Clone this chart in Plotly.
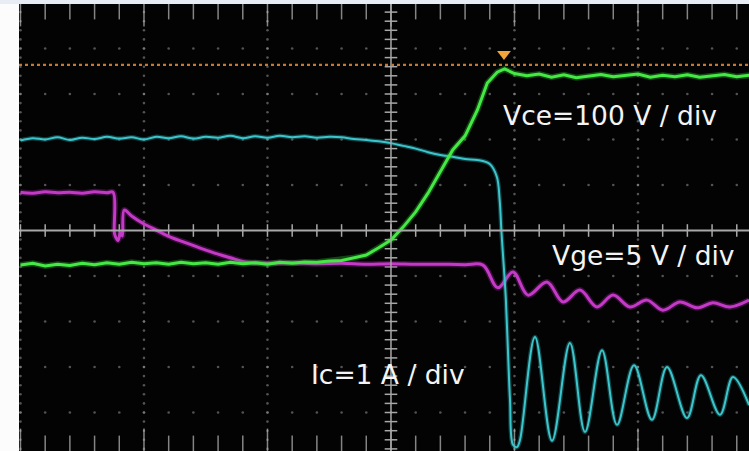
import numpy as np
import plotly.graph_objects as go

# ---- data (in screen divisions; x = time div from centre, y = vertical div from centre)
vce_t = [-3.0, -2.9, -2.8, -2.7, -2.6, -2.5, -2.4, -2.3, -2.2, -2.1, -2.0, -1.9, -1.8, -1.7,
         -1.6, -1.5, -1.4, -1.3, -1.2, -1.1, -1.0, -0.9, -0.8, -0.7, -0.6, -0.5, -0.4, -0.3,
         -0.2, -0.1, 0.0, 0.1, 0.2, 0.3, 0.4, 0.5, 0.6, 0.7, 0.78, 0.86, 0.92, 1.0, 1.1, 1.2,
         1.3, 1.4, 1.5, 1.6, 1.7, 1.8, 1.9, 2.0, 2.1, 2.2, 2.3, 2.4, 2.5, 2.6, 2.7, 2.8, 2.9]
vce_v = [-0.76, -0.72, -0.78, -0.74, -0.77, -0.72, -0.75, -0.71, -0.74, -0.70, -0.73, -0.71,
         -0.74, -0.70, -0.73, -0.71, -0.74, -0.70, -0.73, -0.71, -0.74, -0.70, -0.72, -0.69,
         -0.70, -0.67, -0.66, -0.60, -0.54, -0.38, -0.21, 0.08, 0.41, 0.82, 1.29, 1.77, 2.08,
         2.65, 3.24, 3.48, 3.55, 3.45, 3.40, 3.44, 3.37, 3.42, 3.36, 3.40, 3.43, 3.38, 3.41,
         3.44, 3.37, 3.41, 3.38, 3.42, 3.37, 3.40, 3.43, 3.38, 3.41]

ic_t = [-3.0, -2.9, -2.8, -2.7, -2.6, -2.5, -2.4, -2.3, -2.2, -2.1, -2.0, -1.9, -1.8, -1.7,
        -1.6, -1.5, -1.4, -1.3, -1.2, -1.1, -1.0, -0.9, -0.8, -0.7, -0.6, -0.5, -0.4, -0.3,
        -0.2, -0.1, 0.0, 0.1, 0.2, 0.3, 0.4, 0.5, 0.6, 0.7, 0.8, 0.857, 0.88, 0.895, 0.915,
        0.93, 0.947, 0.964, 0.988, 1.02, 1.045, 1.166, 1.304, 1.449, 1.571, 1.709, 1.830,
        1.968, 2.113, 2.235, 2.397, 2.510, 2.664, 2.769, 2.9]
ic_v = [1.98, 2.03, 2.00, 2.05, 1.99, 2.04, 2.01, 2.06, 2.02, 2.05, 2.00, 2.06, 2.03, 2.07,
        2.02, 2.06, 2.04, 2.08, 2.03, 2.07, 2.04, 2.08, 2.05, 2.07, 2.04, 2.06, 2.05, 2.01,
        1.99, 1.96, 1.92, 1.86, 1.80, 1.72, 1.66, 1.62, 1.57, 1.55, 1.46, 1.18, 0.67, -0.05,
        -0.85, -1.5, -2.63, -3.73, -4.71, -4.76, -4.6, -2.34, -4.62, -2.47, -4.43, -2.63,
        -4.27, -2.96, -4.16, -3.00, -4.12, -3.18, -4.05, -3.22, -3.84]

vge_t = [-3.0, -2.9, -2.8, -2.7, -2.6, -2.5, -2.4, -2.3, -2.25, -2.24, -2.23, -2.21, -2.19,
         -2.175, -2.16, -2.1, -2.01, -1.9, -1.79, -1.67, -1.55, -1.4, -1.3, -1.18, -1.0, -0.8,
         -0.6, -0.4, -0.2, 0.0, 0.2, 0.4, 0.6, 0.745, 0.866, 0.988, 1.109, 1.263, 1.393, 1.53,
         1.668, 1.798, 1.935, 2.073, 2.202, 2.34, 2.478, 2.607, 2.745, 2.9]
vge_v = [0.84, 0.82, 0.85, 0.83, 0.84, 0.82, 0.85, 0.83, 0.84, -0.05, -0.14, -0.22, -0.05,
         -0.12, 0.45, 0.32, 0.16, 0.01, -0.14, -0.26, -0.38, -0.52, -0.60, -0.69, -0.72, -0.71,
         -0.73, -0.72, -0.74, -0.73, -0.74, -0.74, -0.75, -0.76, -1.26, -0.91, -1.42, -1.13,
         -1.57, -1.31, -1.68, -1.42, -1.68, -1.53, -1.75, -1.57, -1.70, -1.59, -1.68, -1.53]

trigger_level = 3.64
trigger_time = 0.915

labels = ["Vce=100 V / div", "Vge=5 V / div", "Ic=1 A / div"]
label_t = [0.89, 1.285, -0.665]
label_y = [2.53, -0.55, -3.17]

X_RANGE = [-3.012, 2.899]
Y_RANGE = [-4.846, 4.978]

fig = go.Figure()

# ---- graticule
grid_col = "rgba(150,150,150,0.55)"
minor_x = np.round(np.arange(-3.0, 2.95, 0.2), 3)
minor_y = np.round(np.arange(-4.8, 4.85, 0.2), 3)
major_x = [-3, -2, -1, 1, 2]
major_y = [-4, -3, -2, -1, 1, 2, 3, 4]

gx, gy = [], []
for yy in major_y:
    for xx in minor_x:
        gx.append(xx); gy.append(yy)
for xx in major_x:
    for yy in minor_y:
        gx.append(xx); gy.append(yy)
fig.add_trace(go.Scatter(x=gx, y=gy, mode="markers",
                         marker=dict(size=2.6, color=grid_col), hoverinfo="skip"))

axis_col = "#a8a8a8"
fig.add_shape(type="line", xref="paper", yref="y", x0=0, x1=1, y0=0, y1=0,
              line=dict(color=axis_col, width=2))
fig.add_shape(type="line", xref="x", yref="paper", x0=0, x1=0, y0=0, y1=1,
              line=dict(color=axis_col, width=1.5))
fig.add_trace(go.Scatter(x=minor_x, y=[0] * len(minor_x), mode="markers",
                         marker=dict(symbol="line-ns", size=9, line=dict(color=axis_col, width=1.5)),
                         hoverinfo="skip"))
fig.add_trace(go.Scatter(x=[0] * len(minor_y), y=minor_y, mode="markers",
                         marker=dict(symbol="line-ew", size=9, line=dict(color=axis_col, width=1.5)),
                         hoverinfo="skip"))
# border ticks top/bottom
edge_col = "#bdbdbd"
is_major = [abs(v - round(v)) < 1e-6 for v in minor_x]
sizes = [32 if m else 22 for m in is_major]
fig.add_trace(go.Scatter(x=list(minor_x) * 2, y=[Y_RANGE[1]] * len(minor_x) + [Y_RANGE[0]] * len(minor_x),
                         mode="markers",
                         marker=dict(symbol="line-ns", size=sizes * 2, line=dict(color=edge_col, width=1.5)),
                         hoverinfo="skip"))

# ---- trigger level
fig.add_shape(type="line", xref="paper", yref="y", x0=0, x1=1, y0=trigger_level, y1=trigger_level,
              line=dict(color="#c8782c", width=2.2, dash="dot"))
fig.add_trace(go.Scatter(x=[trigger_time], y=[trigger_level + 0.24], mode="markers",
                         marker=dict(symbol="triangle-down", size=12, color="#f2a33a"),
                         hoverinfo="skip"))

# ---- waveforms (glow + core)
def wave(t, v, core, glow, wcore, wglow, shape="linear"):
    fig.add_trace(go.Scatter(x=t, y=v, mode="lines", line=dict(color=glow, width=wglow, shape=shape),
                             opacity=0.35, hoverinfo="skip"))
    fig.add_trace(go.Scatter(x=t, y=v, mode="lines", line=dict(color=core, width=wcore, shape=shape),
                             hoverinfo="skip"))

wave(vge_t, vge_v, "#c43ac6", "#a020a8", 3.0, 6, "spline")
wave(ic_t, ic_v, "#3cc6cc", "#2aa8b0", 2.0, 4.5, "spline")
wave(vce_t, vce_v, "#45e845", "#2cc02c", 3.0, 6)

for txt, tx, ty in zip(labels, label_t, label_y):
    fig.add_annotation(x=tx, y=ty, xref="x", yref="y", text=txt, showarrow=False,
                       xanchor="left", yanchor="middle",
                       font=dict(family="DejaVu Sans", size=26.5, color="#f4f4f4"))

# top light bar
fig.add_shape(type="rect", xref="paper", yref="paper", x0=-0.03, x1=1, y0=1, y1=1.02,
              fillcolor="#e8edf4", line=dict(width=0), layer="below")

fig.update_layout(
    width=749, height=451,
    margin=dict(l=19, r=0, t=4, b=0),
    paper_bgcolor="#fcfcfd", plot_bgcolor="#030303",
    showlegend=False,
    xaxis=dict(range=X_RANGE, visible=False, fixedrange=True),
    yaxis=dict(range=Y_RANGE, visible=False, fixedrange=True),
)

fig.write_html("out.html", config={"displayModeBar": False},
               post_script="document.body.style.margin='0';document.body.style.overflow='hidden';")
